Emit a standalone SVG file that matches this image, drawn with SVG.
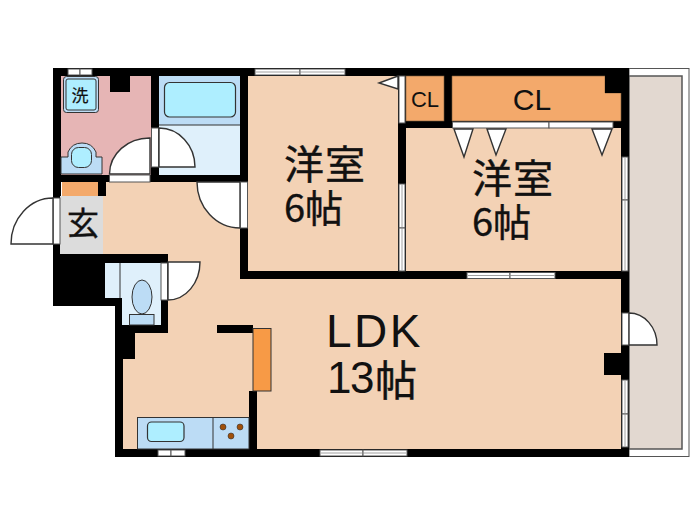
<svg xmlns="http://www.w3.org/2000/svg" width="700" height="525" viewBox="0 0 700 525">
<style>
.w{fill:#000}
.f{fill:#f3d2b5}
.o{fill:#f3a96b;stroke:#7a5a3a;stroke-width:.6}
.d{fill:#fff;stroke:#333;stroke-width:1.4}
.j{fill:#fff;stroke:#555;stroke-width:1}
.l{stroke:#333;stroke-width:1;fill:none}
.m{stroke:#888;stroke-width:.8;fill:none}
.t{font-family:"Noto Sans CJK JP","Liberation Sans",sans-serif;fill:#111;stroke:#111;stroke-width:.4}
.a{font-family:"Liberation Sans",sans-serif;fill:#111}
</style>
<rect width="700" height="525" fill="#fff"/>
<g id="balcony">
<rect x="629" y="68.500" width="60" height="388" fill="#fff" stroke="#555" stroke-width="1"/>
<rect x="629" y="76" width="53" height="373" fill="#e2d8d0" stroke="#555" stroke-width="1.500"/>
</g>
<g id="walls">
<rect class="w" x="53" y="68" width="576" height="8"/>
<rect class="w" x="53" y="68" width="8" height="186"/>
<rect class="w" x="621" y="68" width="8" height="389"/>
<path class="w" d="M53 250H103V254H168V333H135V359H123V449H629V457H115V306H53Z"/>
<rect class="w" x="240" y="68" width="8" height="211"/>
<rect class="w" x="240" y="271" width="389" height="8"/>
<rect class="w" x="151" y="68" width="8" height="114"/>
<rect class="w" x="53" y="175" width="195" height="7"/>
<rect class="w" x="398" y="68" width="8" height="211"/>
<rect class="w" x="406" y="121" width="215" height="7"/>
<rect class="w" x="444" y="68" width="8" height="60"/>
<rect class="w" x="217" y="325" width="36" height="8"/>
<rect class="w" x="249" y="391" width="8" height="60"/>
<rect class="w" x="604" y="353" width="20" height="22"/>
<rect class="w" x="98" y="182" width="8" height="14"/>
<rect class="w" x="53" y="182" width="8" height="14"/>
</g>
<g id="hall-ldk">
<path class="f" d="M106 182H240V279H621V353H604V375H621V449H257V391H271V328H253V325H217V333H168V254H103V196H106Z"/>
<path class="f" d="M135 333H217H249V417H137V449H123V359H135Z"/>
<rect class="f" x="217" y="333" width="36" height="58"/>
<rect x="253" y="328.500" width="18" height="62.500" fill="#f79a46" stroke="#333" stroke-width="1"/>
</g>
<g id="laundry">
<rect x="61" y="76" width="90" height="99" fill="#e6b5b5"/>
<rect class="w" x="110" y="76" width="20" height="16"/>
<rect x="63.500" y="76.500" width="35" height="36" rx="3" fill="#bcdcf5" stroke="#333" stroke-width="1"/>
<rect x="66" y="79" width="30" height="31" rx="2" fill="#aeeeff" stroke="#333" stroke-width="1"/>
<text class="t" x="80" y="102" font-size="17" text-anchor="middle" style="stroke-width:.2">洗</text>
<path d="M61 157H68V152Q72 143 82 143Q92 143 96 152V157H102V174H61Z" fill="#bcdcf5" stroke="#333" stroke-width="1"/>
<rect x="71.500" y="147.500" width="20" height="20" rx="7" fill="#aeeeff" stroke="#333" stroke-width="1"/>
<path class="d" d="M150 174H109.500A40 36 0 0 1 150 138Z"/>
<rect class="j" x="109.500" y="175" width="40.500" height="7"/>
</g>
<g id="bath">
<rect x="159" y="76" width="81" height="49" fill="#bcdcf5"/>
<rect x="159" y="125" width="81" height="50" fill="#dff0fb"/>
<path class="l" d="M159 125H240"/>
<rect x="164.500" y="82.500" width="71" height="34.500" rx="5" fill="#aeeeff" stroke="#333" stroke-width="1.200"/>
<rect class="j" x="151.500" y="128" width="7" height="39"/>
<path class="d" d="M159 167H195A36 39 0 0 0 159 128Z"/>
</g>
<g id="room-west">
<rect class="f" x="248" y="76" width="150" height="195"/>
<rect class="j" x="255" y="69" width="45" height="6"/>
<rect class="j" x="300" y="69" width="45" height="6"/>
<path class="m" d="M256 72H344"/>
<rect class="j" x="399" y="76" width="6" height="47"/>
<rect class="j" x="399" y="184" width="6" height="44"/>
<rect class="j" x="399" y="228" width="6" height="43"/>
<path class="m" d="M402 185V270"/>
<path class="d" d="M398 76L379 83L398 89Z"/>
<text class="t" x="284" y="179" font-size="40" letter-spacing="1">洋室</text>
<text class="t" x="284" y="222" font-size="38">6帖</text>
</g>
<g id="closet-small">
<rect class="o" x="406" y="76" width="38" height="45"/>
<text class="a" x="425" y="107" font-size="22" text-anchor="middle">CL</text>
</g>
<g id="closet-large">
<path class="o" d="M452 76H605V93H621V121H452Z"/>
<rect class="w" x="605" y="76" width="16" height="17"/>
<text class="a" x="532" y="110" font-size="30" text-anchor="middle">CL</text>
</g>
<g id="room-east">
<rect class="f" x="406" y="128" width="215" height="143"/>
<rect class="j" x="452.500" y="122" width="96.500" height="6"/>
<rect class="j" x="549" y="122" width="64" height="6"/>
<path class="d" d="M454 129L464 157L473 129Z"/>
<path class="d" d="M487 129L496 155L506 129Z"/>
<path class="d" d="M592 129L602 155L612 129Z"/>
<rect class="j" x="622" y="157" width="6" height="43"/>
<rect class="j" x="622" y="200" width="6" height="71"/>
<path class="m" d="M625 158V270"/>
<text class="t" x="472" y="193" font-size="40" letter-spacing="1">洋室</text>
<text class="t" x="472" y="236" font-size="38">6帖</text>
</g>
<g id="genkan">
<rect x="62" y="182" width="36" height="14" fill="#f3a96b"/>
<rect x="60" y="196" width="43" height="58" fill="#dcdcdc"/>
<text class="t" x="83" y="235" font-size="32" text-anchor="middle">玄</text>
<rect class="j" x="53" y="198" width="7" height="46"/>
<path class="d" d="M53 244H11A42 46 0 0 1 53 198Z"/>
</g>
<g id="toilet">
<path d="M105 263H161V325H122V298H105Z" fill="#dff0fb"/>
<path class="l" d="M120 263V298"/>
<ellipse cx="142" cy="297" rx="10" ry="17" fill="#bcdcf5" stroke="#333" stroke-width="1"/>
<rect x="129.500" y="314.500" width="24.500" height="10.500" fill="#bcdcf5" stroke="#333" stroke-width="1"/>
<rect class="j" x="161" y="263" width="6.500" height="37"/>
<path class="d" d="M168 262H200A32 38 0 0 1 168 300Z"/>
</g>
<g id="doors-windows">
<rect class="j" x="68" y="69" width="12" height="6"/>
<rect class="j" x="80" y="69" width="12" height="6"/>
<path class="d" d="M240 182H197A43 46 0 0 0 240 228Z"/>
<rect class="j" x="240.500" y="182" width="7" height="46"/>
<rect class="j" x="467" y="272.500" width="43" height="6"/>
<rect class="j" x="510" y="272.500" width="45" height="6"/>
<path class="m" d="M468 275.500H554"/>
<rect class="j" x="622" y="313" width="7" height="32"/>
<path class="d" d="M629 345H657A28 32 0 0 0 629 313Z"/>
<rect class="j" x="622" y="380" width="6" height="34"/>
<rect class="j" x="622" y="414" width="6" height="33"/>
<path class="m" d="M625 381V446"/>
<rect class="j" x="158" y="450" width="13" height="6"/>
<rect class="j" x="171" y="450" width="14" height="6"/>
<rect class="j" x="320" y="450" width="43" height="6"/>
<rect class="j" x="363" y="450" width="44" height="6"/>
<path class="m" d="M321 453H406"/>
</g>
<g id="kitchen">
<rect x="137.500" y="417.500" width="111.500" height="31.500" fill="#bcdcf5" stroke="#333" stroke-width="1"/>
<path class="l" d="M213 417V449"/>
<rect x="147.500" y="422" width="36.500" height="19.500" rx="4" fill="#aeeeff" stroke="#333" stroke-width="1.200"/>
<circle cx="223" cy="427" r="3" fill="#a0500a" stroke="#333" stroke-width=".6"/>
<circle cx="240" cy="427" r="3" fill="#a0500a" stroke="#333" stroke-width=".6"/>
<circle cx="231" cy="436" r="3" fill="#a0500a" stroke="#333" stroke-width=".6"/>
</g>
<g id="ldk-label">
<text class="a" x="326" y="347" font-size="46" letter-spacing="2.500">LDK</text>
<text class="a" x="327" y="393" font-size="44" letter-spacing="-1.500">13</text>
<text class="t" x="375" y="396" font-size="42">帖</text>
</g>
</svg>
